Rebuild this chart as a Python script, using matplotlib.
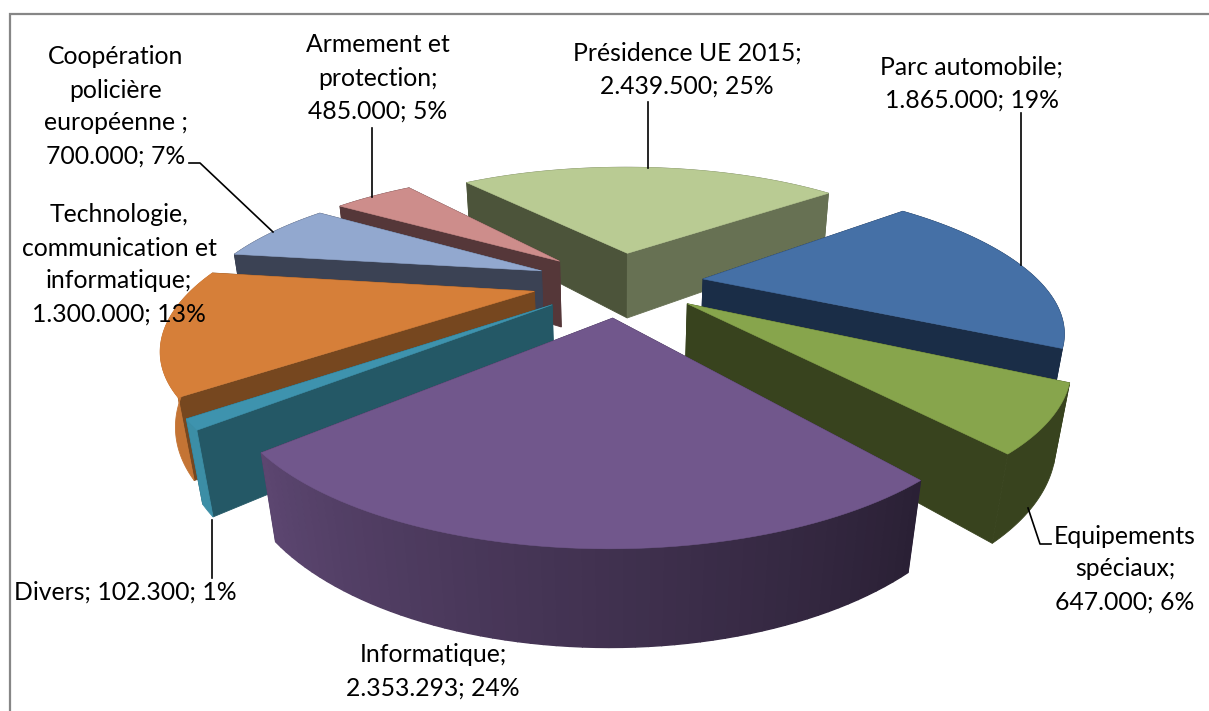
import numpy as np
import matplotlib
matplotlib.use("Agg")
import matplotlib.pyplot as plt
from matplotlib.patches import Polygon
from matplotlib.colors import to_rgb

# donnees du graphique
values = [2439500, 1865000, 647000, 2353293, 102300, 1300000, 700000, 485000]
labels = [
    ["Présidence UE 2015;", "2.439.500; 25%"],
    ["Parc automobile;", "1.865.000; 19%"],
    ["Equipements", "spéciaux;", "647.000; 6%"],
    ["Informatique;", "2.353.293; 24%"],
    ["Divers; 102.300; 1%"],
    ["Technologie,", "communication et", "informatique;", "1.300.000; 13%"],
    ["Coopération", "policière", "européenne ;", "700.000; 7%"],
    ["Armement et", "protection;", "485.000; 5%"],
]

tops = ['#b9cb93', '#4570a6', '#87a54c', '#71578c', '#3e93ae', '#d67f39', '#92a8cf', '#cd8d8b']
start_walls = ['#4c543a', '#1a2d47', '#38431e', '#3e3050', '#245866', '#76471f', '#3b4254', '#553739']
end_walls = ['#677153', '#1a2d47', '#38431e', '#3e3050', '#245866', '#76471f', '#3b4254', '#553739']
outer_walls = ['#677153', '#1a2d47', '#38431e', '#3e3050', '#3c8ea6', '#c47434', '#3b4254', '#553739']

label_x = [687, 972, 1125, 433, 125, 119, 116, 378]
label_y = [53, 67, 536, 655, 592, 215, 57, 45]
leaders = [
    [(648, 102), (648, 168)],
    [(1021, 113), (1021, 265)],
    [(1051, 544), (1040, 544), (1028, 508)],
    [(212, 520), (212, 578)],
    [(189, 163), (200, 163), (273, 232)],
    [(372, 128), (372, 197)],
]

# camera de la vue 3D (perspective forte)
cx, cy = 619.8, 282.3
focal = 992.6
elev = 0.3923
dist = 2.949
height = 0.227
first_angle = -0.675
explode = [0.2436, 0.2507, 0.2478, 0.2567, 0.2524, 0.2578, 0.2563, 0.2557]
draw_order = [0, 7, 6, 1, 5, 2, 4, 3]

frac = np.array(values) / sum(values)
edges = first_angle + np.concatenate([[0], np.cumsum(frac)]) * 2 * np.pi


def point(i, ang, r, z):
    mid = (edges[i] + edges[i + 1]) / 2
    x = explode[i] * np.sin(mid) + r * np.sin(ang)
    y = -(explode[i] * np.cos(mid) + r * np.cos(ang))
    v = -y * np.sin(elev) + z * np.cos(elev)
    w = dist - y * np.cos(elev) - z * np.sin(elev)
    return cx + focal * x / w, cy - focal * v / w


def band(ax, i, t):
    if i != 3:
        poly = [point(i, a, 1, 0) for a in t] + [point(i, a, 1, -height) for a in t[::-1]]
        ax.add_patch(Polygon(poly, fc=outer_walls[i], ec=outer_walls[i], lw=0.6))
        return
    # degrade sur le bord de la part Informatique
    left = np.array(to_rgb('#5c4670'))
    right = np.array(to_rgb('#2a2035'))
    for a, b in zip(t[:-1], t[1:]):
        k = ((a + b) / 2 - edges[3]) / (edges[4] - edges[3])
        col = tuple(right + (left - right) * k)
        quad = [point(i, a, 1, 0), point(i, b, 1, 0), point(i, b, 1, -height), point(i, a, 1, -height)]
        ax.add_patch(Polygon(quad, fc=col, ec=col, lw=1.0))


fig = plt.figure(figsize=(12.09, 7.11), dpi=100)
ax = fig.add_axes([0, 0, 1, 1])
ax.set_xlim(0, 1209)
ax.set_ylim(711, 0)
ax.axis('off')
ax.plot([10, 10, 1209], [711, 14, 14], color='#868686', lw=1.6, solid_joinstyle='miter')

for i in draw_order:
    t = np.linspace(edges[i], edges[i + 1], 61)
    top = [point(i, a, 1, 0) for a in t]
    ap0 = point(i, 0, 0, 0)
    ap1 = point(i, 0, 0, -height)
    near = np.cos((edges[i] + edges[i + 1]) / 2) < 0
    if not near:
        band(ax, i, t)
    start = [ap0, top[0], point(i, t[0], 1, -height), ap1]
    end = [ap0, top[-1], point(i, t[-1], 1, -height), ap1]
    pair = [(start, start_walls[i]), (end, end_walls[i])]
    pair.sort(key=lambda q: q[0][1][1])
    for poly, col in pair:
        ax.add_patch(Polygon(poly, fc=col, ec=col, lw=0.6))
    if near:
        band(ax, i, t)
    ax.add_patch(Polygon([ap0] + top, fc=tops[i], ec=tops[i], lw=0.4))

for pts in leaders:
    ax.plot([q[0] for q in pts], [q[1] for q in pts], color='black', lw=1.2)

for lines, x, y in zip(labels, label_x, label_y):
    for n, line in enumerate(lines):
        ax.text(x, y + n * 33, line, family='Lato', fontsize=17.8, ha='center', va='center', color='black')

fig.savefig('out.png', dpi=100)
